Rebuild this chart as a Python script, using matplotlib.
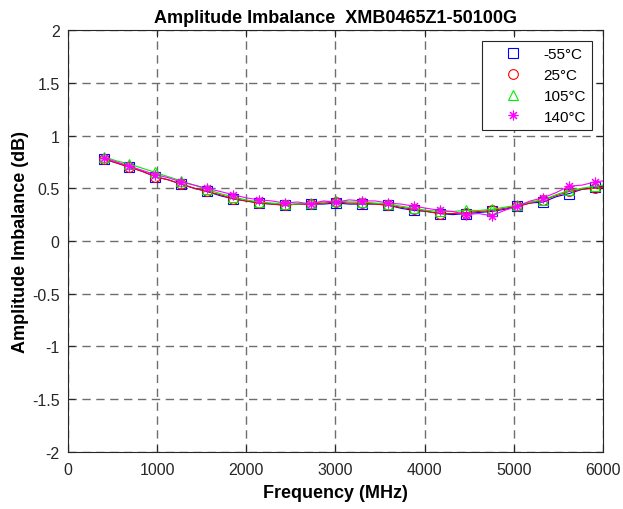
import matplotlib
matplotlib.use("Agg")
import matplotlib.pyplot as plt

plt.rcParams['font.family'] = ['Liberation Sans', 'DejaVu Sans']

# frequency points (MHz); markers are on every other point
freq = [400, 545, 690, 835, 980, 1125, 1270, 1415, 1560, 1705,
        1850, 1995, 2140, 2285, 2430, 2575, 2720, 2865, 3010, 3155,
        3300, 3445, 3590, 3735, 3880, 4025, 4170, 4315, 4460, 4605,
        4750, 4895, 5040, 5185, 5330, 5475, 5620, 5765, 5910, 6000]

imb_m55 = [0.78, 0.74, 0.70, 0.66, 0.61, 0.58, 0.54, 0.50, 0.47, 0.43,
           0.40, 0.38, 0.36, 0.35, 0.34, 0.35, 0.35, 0.35, 0.36, 0.35,
           0.35, 0.35, 0.34, 0.31, 0.29, 0.28, 0.26, 0.25, 0.26, 0.27,
           0.28, 0.30, 0.33, 0.36, 0.37, 0.42, 0.45, 0.49, 0.51, 0.52]
imb_25 = [0.78, 0.74, 0.70, 0.66, 0.61, 0.58, 0.54, 0.50, 0.47, 0.44,
          0.40, 0.38, 0.36, 0.35, 0.34, 0.35, 0.35, 0.36, 0.37, 0.36,
          0.36, 0.35, 0.34, 0.32, 0.30, 0.28, 0.26, 0.26, 0.27, 0.28,
          0.29, 0.31, 0.33, 0.36, 0.39, 0.43, 0.47, 0.49, 0.50, 0.51]
imb_105 = [0.80, 0.76, 0.73, 0.69, 0.65, 0.61, 0.57, 0.53, 0.49, 0.45,
           0.42, 0.39, 0.37, 0.36, 0.35, 0.35, 0.36, 0.37, 0.38, 0.37,
           0.37, 0.36, 0.35, 0.33, 0.31, 0.29, 0.28, 0.28, 0.29, 0.29,
           0.30, 0.32, 0.34, 0.37, 0.39, 0.44, 0.48, 0.50, 0.52, 0.53]
imb_140 = [0.79, 0.75, 0.71, 0.67, 0.63, 0.60, 0.56, 0.53, 0.50, 0.47,
           0.44, 0.41, 0.39, 0.38, 0.36, 0.37, 0.35, 0.38, 0.37, 0.39,
           0.38, 0.38, 0.36, 0.35, 0.33, 0.31, 0.29, 0.28, 0.25, 0.26,
           0.24, 0.29, 0.33, 0.38, 0.41, 0.46, 0.52, 0.53, 0.56, 0.57]

labels = ['-55°C', '25°C', '105°C', '140°C']
colors = ['#0000ff', '#ff0000', '#00ee00', '#ff00ff']
markers = ['s', 'o', '^', (8, 2, 0)]
series = [imb_m55, imb_25, imb_105, imb_140]

fig = plt.figure(figsize=(6.23, 5.10), dpi=100)
ax = fig.add_axes([0.109, 0.112, 0.859, 0.827])

for vals, lab, c, m in zip(series, labels, colors, markers):
    ax.plot(freq, vals, '-', color=c, lw=0.8)
    ax.plot(freq[0:-1:2], vals[0:-1:2], linestyle='none', marker=m, ms=7,
            mfc='none', mec=c, mew=0.8, label=lab)

ax.set_xlim(0, 6000)
ax.set_ylim(-2, 2)
ax.set_xticks(range(0, 6001, 1000))
ax.set_yticks([-2, -1.5, -1, -0.5, 0, 0.5, 1, 1.5, 2])
ax.set_yticklabels(['-2', '-1.5', '-1', '-0.5', '0', '0.5', '1', '1.5', '2'])
ax.grid(True, color='#6e6e6e', linestyle=(0, (6, 4)), lw=1.0)
ax.tick_params(direction='in', top=True, right=True, labelsize=11.5,
               colors='#262626', length=5)
ax.tick_params(axis='x', pad=7)
ax.tick_params(axis='y', pad=6)
for s in ax.spines.values():
    s.set_color('#262626')
    s.set_linewidth(0.8)

ax.set_title('Amplitude Imbalance  XMB0465Z1-50100G', fontsize=13,
             fontweight='bold', pad=6)
ax.set_xlabel('Frequency (MHz)', fontsize=13, fontweight='bold', labelpad=5)
ax.set_ylabel('Amplitude Imbalance (dB)', fontsize=13, fontweight='bold',
              labelpad=2)

leg = ax.legend(loc='upper right', fontsize=11, fancybox=False,
                framealpha=1, edgecolor='#262626', borderaxespad=0.72,
                handletextpad=0.35, labelspacing=0.45, borderpad=0.4,
                handlelength=3.3)
leg.get_frame().set_linewidth(0.8)

fig.savefig('out.png', dpi=100)
